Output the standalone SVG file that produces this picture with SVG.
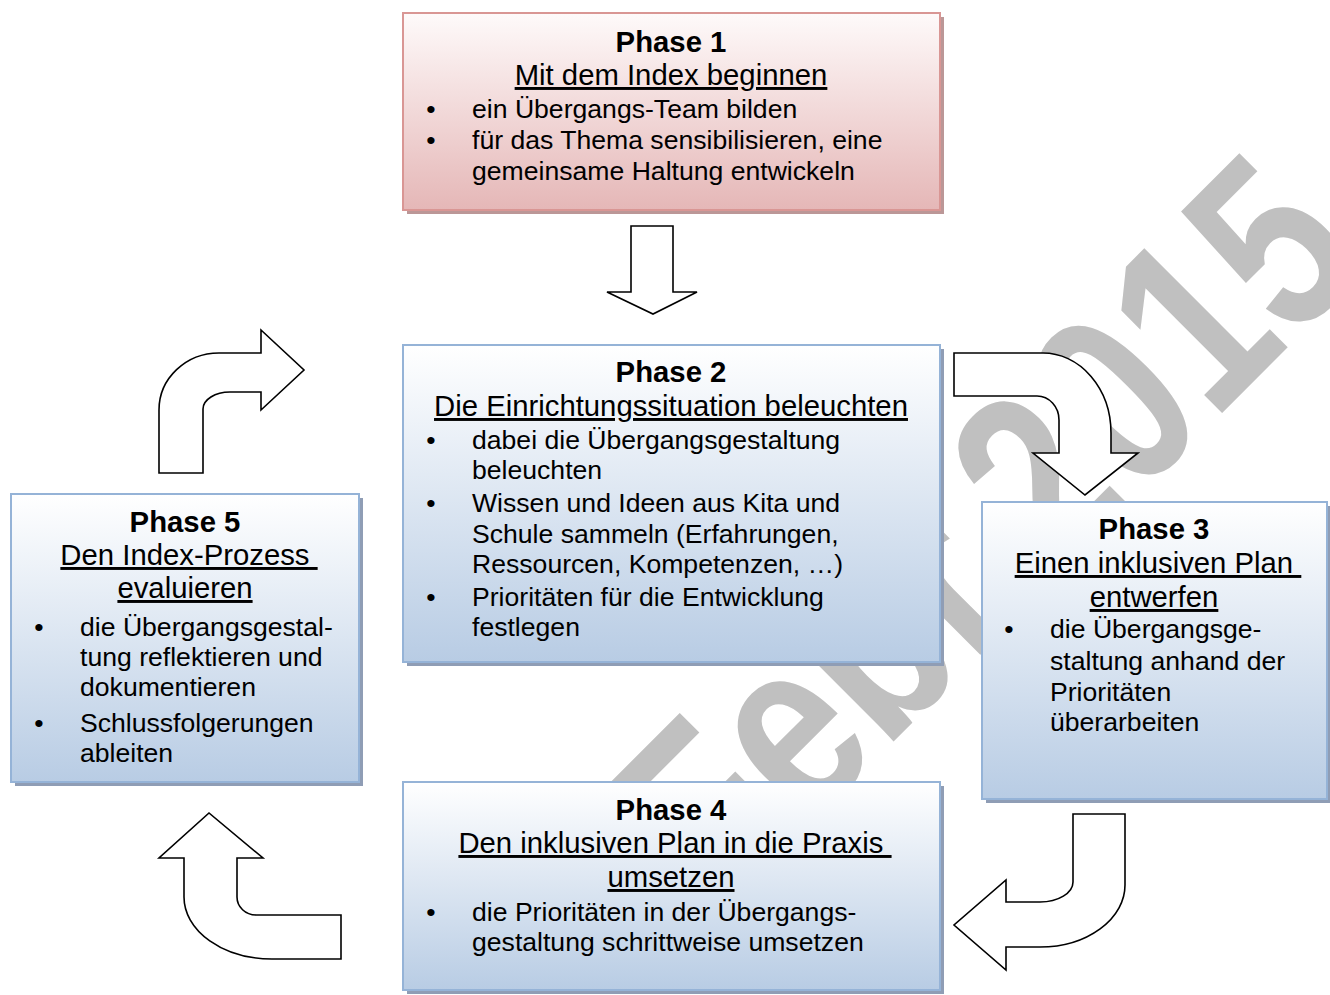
<svg xmlns="http://www.w3.org/2000/svg" width="1330" height="995" viewBox="0 0 1330 995">
<defs>
<linearGradient id="gBlue" x1="0" y1="0" x2="0" y2="1"><stop offset="0" stop-color="#ffffff"/><stop offset="1" stop-color="#b8cce4"/></linearGradient>
<linearGradient id="gPink" x1="0" y1="0" x2="0" y2="1"><stop offset="0" stop-color="#fefafa"/><stop offset="1" stop-color="#e5b7b7"/></linearGradient>
</defs>
<style>
.t{font-family:"Liberation Sans",Arial,sans-serif;fill:#000}
.h{font-size:29.3px;font-weight:bold;text-anchor:middle}
.s{font-size:29.3px;text-anchor:middle;text-decoration:underline;white-space:pre}
.b{font-size:26.6px}
.d{font-size:26.6px;text-anchor:middle}
.blue{fill:url(#gBlue);stroke:#95b3d7;stroke-width:2}
.pink{fill:url(#gPink);stroke:#d99694;stroke-width:2}
.shB{fill:#8f9db5}
.shP{fill:#bb9797}
.arr{fill:#fff;stroke:#000;stroke-width:1.6}
.wm{font-family:"Liberation Sans",Arial,sans-serif;font-weight:bold;font-size:249px;fill:#c0c0c0;word-spacing:-69px}
</style>
<rect width="1330" height="995" fill="#fff"/>
<g id="watermark">
<text class="wm" transform="translate(720,915) rotate(-45) scale(0.8,1)">Febr. 2015</text>
</g>
<g id="connectors">
<path class="arr" d="M631,226 H673 V292 H697 L653,314 L607,292 H631 Z"/>
<path class="arr" d="M954,353 H1043 A68,80 0 0 1 1111,433 V453 H1138 L1085,495 L1033,453 H1059 V420 A22,24 0 0 0 1037,396 H954 Z"/>
<path class="arr" d="M1073,814 H1125 V885 A85,62 0 0 1 1040,947 H1006 V970 L954,925 L1006,880 V902 H1040 A33,20 0 0 0 1073,882 Z"/>
<path class="arr" d="M341,915 H256 A19,18 0 0 1 237,897 V858 H263 L209,813 L159,858 H184 V897 A88,62 0 0 0 272,959 H341 Z"/>
<path class="arr" d="M159,473 V410 A60,57 0 0 1 219,353 H261 V330 L304,370 L261,410 V392 H230 A27,17 0 0 0 203,409 V473 Z"/>
</g>
<g id="phase1">
<rect class="shP" x="407" y="17" width="537" height="197"/>
<rect class="pink" x="403" y="13" width="537" height="197"/>
<text class="t h" x="671" y="52">Phase 1</text>
<text class="t s" x="671" y="85">Mit dem Index beginnen</text>
<text class="t d" x="431" y="118">•</text>
<text class="t b" x="472" y="118">ein Übergangs-Team bilden</text>
<text class="t d" x="431" y="149">•</text>
<text class="t b" x="472" y="149">für das Thema sensibilisieren, eine</text>
<text class="t b" x="472" y="180">gemeinsame Haltung entwickeln</text>
</g>
<g id="phase2">
<rect class="shB" x="407" y="349" width="537" height="317"/>
<rect class="blue" x="403" y="345" width="537" height="317"/>
<text class="t h" x="671" y="382">Phase 2</text>
<text class="t s" x="671" y="416">Die Einrichtungssituation beleuchten</text>
<text class="t d" x="431" y="449">•</text>
<text class="t b" x="472" y="449">dabei die Übergangsgestaltung</text>
<text class="t b" x="472" y="479">beleuchten</text>
<text class="t d" x="431" y="512">•</text>
<text class="t b" x="472" y="512">Wissen und Ideen aus Kita und</text>
<text class="t b" x="472" y="543">Schule sammeln (Erfahrungen,</text>
<text class="t b" x="472" y="573">Ressourcen, Kompetenzen, …)</text>
<text class="t d" x="431" y="606">•</text>
<text class="t b" x="472" y="606">Prioritäten für die Entwicklung</text>
<text class="t b" x="472" y="636">festlegen</text>
</g>
<g id="phase3">
<rect class="shB" x="986" y="506" width="345" height="297"/>
<rect class="blue" x="982" y="502" width="345" height="297"/>
<text class="t h" x="1154" y="539">Phase 3</text>
<text class="t s" x="1158" y="573" xml:space="preserve">Einen inklusiven Plan </text>
<text class="t s" x="1154" y="607">entwerfen</text>
<text class="t d" x="1009" y="638">•</text>
<text class="t b" x="1050" y="638">die Übergangsge-</text>
<text class="t b" x="1050" y="670">staltung anhand der</text>
<text class="t b" x="1050" y="701">Prioritäten</text>
<text class="t b" x="1050" y="731">überarbeiten</text>
</g>
<g id="phase4">
<rect class="shB" x="407" y="786" width="537" height="208"/>
<rect class="blue" x="403" y="782" width="537" height="208"/>
<text class="t h" x="671" y="820">Phase 4</text>
<text class="t s" x="675" y="853" xml:space="preserve">Den inklusiven Plan in die Praxis </text>
<text class="t s" x="671" y="887">umsetzen</text>
<text class="t d" x="431" y="921">•</text>
<text class="t b" x="472" y="921">die Prioritäten in der Übergangs-</text>
<text class="t b" x="472" y="951">gestaltung schrittweise umsetzen</text>
</g>
<g id="phase5">
<rect class="shB" x="15" y="498" width="348" height="288"/>
<rect class="blue" x="11" y="494" width="348" height="288"/>
<text class="t h" x="185" y="532">Phase 5</text>
<text class="t s" x="189" y="565" xml:space="preserve">Den Index-Prozess </text>
<text class="t s" x="185" y="598">evaluieren</text>
<text class="t d" x="39" y="636">•</text>
<text class="t b" x="80" y="636">die Übergangsgestal-</text>
<text class="t b" x="80" y="666">tung reflektieren und</text>
<text class="t b" x="80" y="696">dokumentieren</text>
<text class="t d" x="39" y="732">•</text>
<text class="t b" x="80" y="732">Schlussfolgerungen</text>
<text class="t b" x="80" y="762">ableiten</text>
</g>
</svg>
